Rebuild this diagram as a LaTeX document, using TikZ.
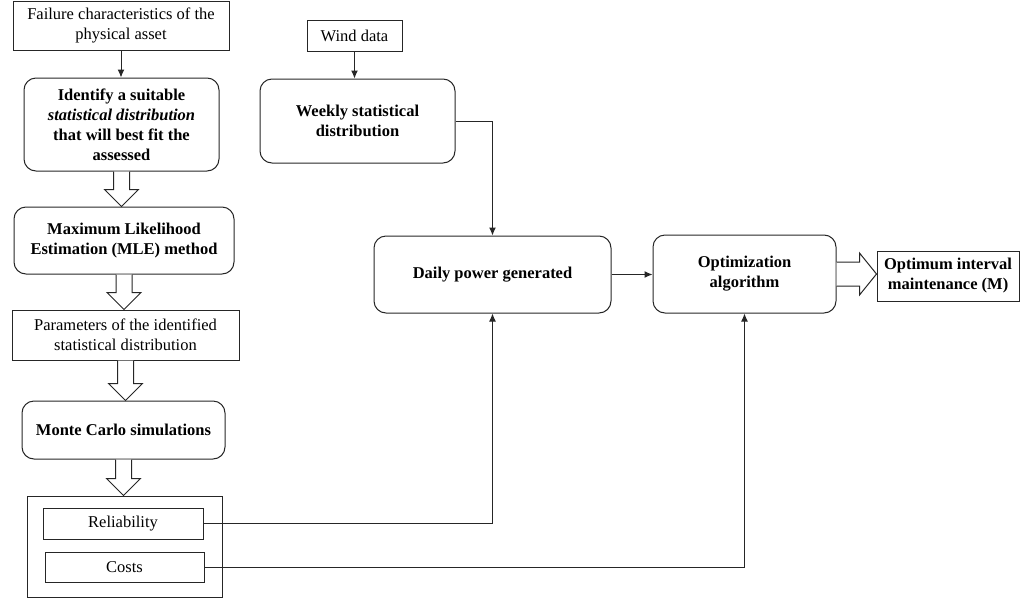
\documentclass[tikz,border=0pt]{standalone}
\usepackage{fontspec}
\setmainfont{Liberation Serif}
\usetikzlibrary{calc,arrows.meta}

\tikzset{
  caja/.style={draw=black!85,line width=1pt,inner sep=2pt,align=center,
    font=\fontsize{16.5}{20}\selectfont},
  cajaredonda/.style={caja,rounded corners=12pt,
    font=\fontsize{16.5}{20}\selectfont\bfseries},
  flecha/.style={-{Latex[length=8pt,width=7pt]},line width=1pt,draw=black!85},
  linea/.style={line width=1pt,draw=black!85},
  hueca/.style={draw=black!85,line width=1pt,fill=white}
}

% Flecha hueca vertical entre dos nodos
\newcommand{\flechahueca}[2]{%
  \draw[hueca] ($(#1.south)+(-8,0)$) -- ($(#1.south |- #2.north)+(-8,-17)$)
    -- ($(#1.south |- #2.north)+(-17,-17)$) -- (#1.south |- #2.north)
    -- ($(#1.south |- #2.north)+(17,-17)$) -- ($(#1.south |- #2.north)+(8,-17)$)
    -- ($(#1.south)+(8,0)$);}

\begin{document}
\begin{tikzpicture}[x=1pt,y=-1pt]
  % Ventana
  \useasboundingbox (0,0) rectangle (1033,600);

  % Columna izquierda
  \node[caja,minimum width=216pt,minimum height=49pt] (falla) at (121,25.5)
    {Failure characteristics of the\\physical asset};
  \node[cajaredonda,minimum width=195pt,minimum height=93pt] (identificar) at (121.5,124.5)
    {Identify a suitable\\\textit{statistical distribution}\\that will best fit the\\assessed};
  \node[cajaredonda,minimum width=220pt,minimum height=67pt] (mle) at (124,240.5)
    {Maximum Likelihood\\Estimation (MLE) method};
  \node[caja,minimum width=227pt,minimum height=50pt] (parametros) at (125.5,335)
    {Parameters of the identified\\statistical distribution};
  \node[cajaredonda,minimum width=203pt,minimum height=58pt] (montecarlo) at (123.5,430)
    {Monte Carlo simulations};

  % Caja de resultados
  \node[caja,minimum width=195pt,minimum height=101pt] (salidas) at (124.5,546.5) {};
  \node[caja,minimum width=160pt,minimum height=31pt] (fiabilidad) at (123,523.5) {Reliability};
  \node[caja,minimum width=159pt,minimum height=30pt] (costos) at (124.5,567) {Costs};

  % Columna del viento
  \node[caja,minimum width=95pt,minimum height=31pt] (viento) at (354.5,35.5) {Wind data};
  \node[cajaredonda,minimum width=195pt,minimum height=84pt] (semanal) at (357.5,121)
    {Weekly statistical\\distribution};
  \node[cajaredonda,minimum width=237pt,minimum height=77pt] (diaria) at (492.5,274.5)
    {Daily power generated};
  \node[cajaredonda,minimum width=183pt,minimum height=78pt] (optim) at (744.5,274)
    {Optimization\\algorithm};
  \node[caja,minimum width=142pt,minimum height=50pt,font=\fontsize{16.5}{20}\selectfont\bfseries]
    (optimo) at (948,276) {Optimum interval\\maintenance (M)};

  % Flechas simples
  \draw[flecha] (falla.south) -- (falla.south |- identificar.north);
  \draw[flecha] (viento.south) -- (viento.south |- semanal.north);
  \draw[flecha] (semanal.east) -| (diaria.north);
  \draw[flecha] (diaria.east) -- (diaria.east -| optim.west);
  \draw[flecha] (fiabilidad.east) -| (diaria.south);
  \draw[flecha] (costos.east) -| (optim.south);

  % Flechas huecas
  \flechahueca{identificar}{mle}
  \flechahueca{mle}{parametros}
  \flechahueca{parametros}{montecarlo}
  \flechahueca{montecarlo}{salidas}
  \draw[hueca] ($(optim.east)+(0,-12)$) -- ($(optim.east -| optimo.west)+(-17,-12)$)
    -- ($(optim.east -| optimo.west)+(-17,-21)$) -- (optim.east -| optimo.west)
    -- ($(optim.east -| optimo.west)+(-17,21)$) -- ($(optim.east -| optimo.west)+(-17,12)$)
    -- ($(optim.east)+(0,12)$);
\end{tikzpicture}
\end{document}
